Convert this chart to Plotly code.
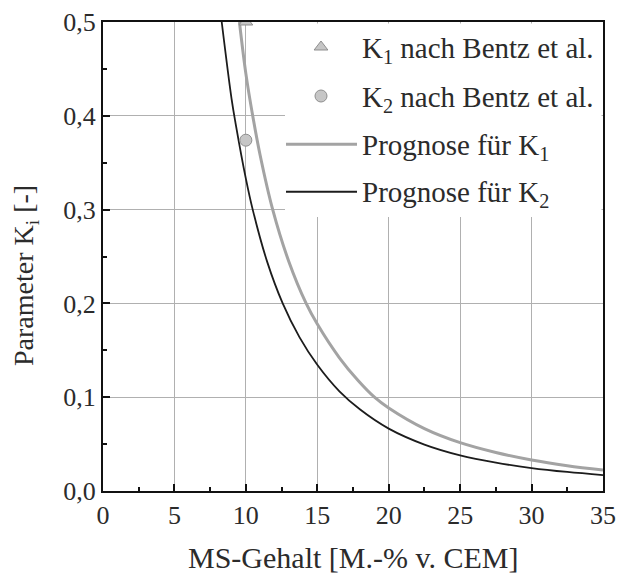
import plotly.graph_objects as go

# ---- data ----
k1_pred_x = [9.55, 10.0, 10.48, 11.0, 11.88, 13.0, 14.22, 15.0, 16.55, 17.84, 19.0, 20.0,
             22.5, 25.0, 27.5, 30.0, 32.5, 35.0]
k1_pred_y = [0.5, 0.445, 0.4, 0.358, 0.3, 0.245, 0.2, 0.178, 0.142, 0.118, 0.1, 0.0885,
             0.0665, 0.0515, 0.041, 0.033, 0.027, 0.0224]
k2_pred_x = [8.31, 9.0, 9.28, 10.0, 10.48, 11.5, 12.58, 13.75, 15.0, 16.55, 18.0, 20.0,
             22.5, 25.0, 27.5, 30.0, 32.5, 35.0]
k2_pred_y = [0.5, 0.418, 0.392, 0.333, 0.3, 0.244, 0.2, 0.164, 0.1345, 0.1062, 0.0868, 0.0665,
             0.0495, 0.038, 0.0302, 0.0245, 0.0203, 0.017]
k1_bentz_x = [10.0]
k1_bentz_y = [0.5]
k2_bentz_x = [10.0]
k2_bentz_y = [0.374]

legend_labels = ["K<sub>1</sub> nach Bentz et al.", "K<sub>2</sub> nach Bentz et al.",
                 "Prognose für K<sub>1</sub>", "Prognose für K<sub>2</sub>"]
x_title = "MS-Gehalt [M.-% v. CEM]"
y_title = "Parameter K<sub>i</sub> [-]"

x_ticks = [0, 5, 10, 15, 20, 25, 30, 35]
y_ticks = [0.0, 0.1, 0.2, 0.3, 0.4, 0.5]

FONT = '"Liberation Serif", "Times New Roman", Times, serif'
TXT = "#2b2b2b"
GRAY_LINE = "#a3a3a3"
BLACK_LINE = "#1c1c1c"
MK_FILL = "#c6c6c6"
MK_EDGE = "#8f8f8f"

W, H = 620, 575
L, R, T, B = 103, 603, 22, 491
pw, ph = R - L, B - T


def px(xp):
    return (xp - L) / pw


def py(yp):
    return (B - yp) / ph


fig = go.Figure()
fig.add_trace(go.Scatter(x=k1_pred_x, y=k1_pred_y, mode="lines",
                         line=dict(color=GRAY_LINE, width=3, shape="spline", smoothing=1.0),
                         showlegend=False, cliponaxis=True))
fig.add_trace(go.Scatter(x=k2_pred_x, y=k2_pred_y, mode="lines",
                         line=dict(color=BLACK_LINE, width=1.8, shape="spline", smoothing=1.0),
                         showlegend=False, cliponaxis=True))
fig.add_trace(go.Scatter(x=k1_bentz_x, y=k1_bentz_y, mode="markers",
                         marker=dict(symbol="triangle-up", size=12, color=MK_FILL,
                                     line=dict(color=MK_EDGE, width=1)),
                         showlegend=False, cliponaxis=True))
fig.add_trace(go.Scatter(x=k2_bentz_x, y=k2_bentz_y, mode="markers",
                         marker=dict(symbol="circle", size=12, color=MK_FILL,
                                     line=dict(color=MK_EDGE, width=1)),
                         showlegend=False, cliponaxis=True))

axis_common = dict(
    showline=True, linecolor="#111111", linewidth=2, mirror=True,
    showgrid=True, gridcolor="#b0b0b0", gridwidth=1.3,
    ticks="inside", ticklen=7, tickwidth=2, tickcolor="#111111",
    tickfont=dict(family=FONT, size=26, color=TXT),
    zeroline=False, automargin=False,
)

fig.update_xaxes(range=[0, 35], tickvals=x_ticks, **axis_common,
                 minor=dict(ticks="inside", ticklen=4, tickwidth=2, tickcolor="#111111",
                            dtick=2.5, showgrid=False),
                 ticklabelstandoff=0)
fig.update_yaxes(range=[0, 0.5], tickvals=y_ticks, tickformat=".1f", **axis_common,
                 minor=dict(ticks="inside", ticklen=4, tickwidth=2, tickcolor="#111111",
                            dtick=0.05, showgrid=False),
                 ticklabelstandoff=0)

# legend box (manual) - white background hiding the grid
shapes = [dict(type="rect", xref="paper", yref="paper",
               x0=px(285), x1=1 - 1.5 / pw, y0=py(217), y1=1 - 1.5 / ph,
               fillcolor="white", line=dict(width=0), layer="above")]
shapes.append(dict(type="path", xref="paper", yref="paper", xsizemode="pixel", ysizemode="pixel",
                   xanchor=px(321), yanchor=py(47),
                   path="M -6.9 -3 L 6.9 -3 L 0 6 Z",
                   fillcolor=MK_FILL, line=dict(color=MK_EDGE, width=1), layer="above"))
shapes.append(dict(type="circle", xref="paper", yref="paper", xsizemode="pixel", ysizemode="pixel",
                   xanchor=px(321), yanchor=py(96), x0=-6, x1=6, y0=-6, y1=6,
                   fillcolor=MK_FILL, line=dict(color=MK_EDGE, width=1), layer="above"))
shapes.append(dict(type="line", xref="paper", yref="paper",
                   x0=px(286), x1=px(357), y0=py(144.3), y1=py(144.3),
                   line=dict(color=GRAY_LINE, width=3), layer="above"))
shapes.append(dict(type="line", xref="paper", yref="paper",
                   x0=px(286), x1=px(357), y0=py(191.7), y1=py(191.7),
                   line=dict(color=BLACK_LINE, width=2), layer="above"))

annotations = []
for lab, yc in zip(legend_labels, [50, 99, 147, 194]):
    annotations.append(dict(text=lab, xref="paper", yref="paper", x=px(360), y=py(yc),
                            xanchor="left", yanchor="middle", showarrow=False,
                            font=dict(family=FONT, size=29, color=TXT)))
# axis titles
annotations.append(dict(text=x_title, xref="paper", yref="paper", x=px(353), y=py(557),
                        xanchor="center", yanchor="middle", showarrow=False,
                        font=dict(family=FONT, size=30, color=TXT)))
annotations.append(dict(text=y_title, xref="paper", yref="paper", x=px(25), y=py(276),
                        xanchor="center", yanchor="middle", showarrow=False, textangle=-90,
                        font=dict(family=FONT, size=28, color=TXT)))

fig.update_layout(
    width=W, height=H,
    margin=dict(l=L, r=W - R, t=T, b=H - B, pad=0, autoexpand=False),
    paper_bgcolor="white", plot_bgcolor="white",
    separators=",.",
    showlegend=False,
    font=dict(family=FONT, color=TXT),
    shapes=shapes, annotations=annotations,
)

fig.write_html("out.html")
